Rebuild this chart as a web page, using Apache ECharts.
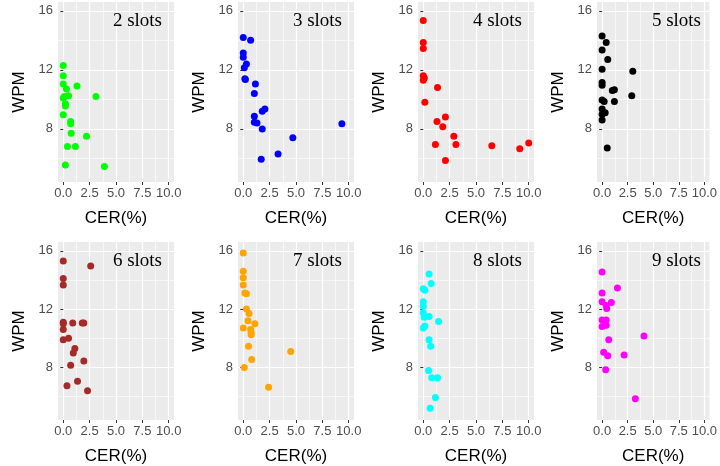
<!DOCTYPE html>
<html><head><meta charset="utf-8">
<script src="https://cdn.jsdelivr.net/npm/echarts@6/dist/echarts.min.js"></script>
<style>html,body{margin:0;padding:0;background:#fff}#c{width:720px;height:466px}</style>
</head><body><div id="c"></div>
<script>
const panelTitles = ['2 slots','3 slots','4 slots','5 slots','6 slots','7 slots','8 slots','9 slots'];
const colors = ['#00FF00','#0000FF','#FF0000','#000000','#A52A2A','#FFA500','#00FFFF','#FF00FF'];
const xTicks = [0, 2.5, 5, 7.5, 10];
const xMinor = [1.25, 3.75, 6.25, 8.75];
const yTicks = [8, 12, 16];
const yMinor = [6, 10, 14];
const slots2 = [[0,12.3],[0,11.6],[0,11.05],[0.3,10.7],[0,10.1],[0.5,10.25],[0.2,9.7],[0.2,9.55],[0,8.95],[1.3,10.9],[3.1,10.2],[0.7,8.5],[0.7,8.35],[0.75,7.7],[2.2,7.5],[0.4,6.8],[1.15,6.8],[0.2,5.55],[3.9,5.45],[0.1,10.2]];
const slots3 = [[0,14.2],[0.7,14.0],[0,13.15],[0,12.85],[0.3,12.4],[0.1,12.15],[0.15,11.4],[1.15,11.05],[1.05,10.4],[2.05,9.35],[1.8,9.2],[1.05,8.85],[1.05,8.45],[1.3,8.4],[1.8,8.0],[9.35,8.35],[4.7,7.4],[3.3,6.3],[1.7,5.95],[0.2,11.35]];
const slots4 = [[0,15.35],[0,13.85],[0,13.45],[0,11.6],[0.1,11.45],[0,11.3],[1.35,10.8],[0.15,9.8],[2.1,8.8],[1.3,8.5],[1.85,8.15],[2.9,7.5],[3.1,6.95],[1.15,6.95],[6.5,6.85],[9.15,6.65],[10,7.05],[2.1,5.85]];
const slots5 = [[0,14.3],[0.4,13.85],[0,13.35],[0.55,12.7],[0,12.05],[3.0,11.9],[0,11.15],[0,10.95],[1.0,10.6],[1.2,10.65],[2.9,10.25],[0,9.95],[0.2,9.85],[1.2,9.85],[0,9.35],[0.3,9.1],[0,9.0],[0,8.6],[0.5,6.7]];
const slots6 = [[0,15.3],[2.6,14.95],[0,14.1],[0,13.65],[0,11.1],[0,11.0],[0.9,11.05],[1.8,11.05],[1.95,11.05],[0,10.6],[0.5,10.0],[0,9.9],[1.1,9.3],[0.95,9.0],[0.7,8.15],[1.95,8.45],[1.35,7.05],[0.35,6.75],[2.3,6.4]];
const slots7 = [[0,15.85],[0,14.6],[0,14.15],[0,13.65],[0.15,13.1],[0.3,13.05],[0.3,12.0],[0.55,11.7],[0.45,11.2],[1.1,11.0],[0,10.7],[0.7,10.6],[0.75,10.4],[0.75,10.25],[0.5,9.45],[4.5,9.1],[0.8,8.55],[0.1,8.0],[2.4,6.65]];
const slots8 = [[0.55,14.4],[0.75,13.75],[0,13.4],[0.15,13.3],[0,12.5],[0,12.2],[0,11.75],[0.1,11.45],[0.55,11.5],[1.45,11.15],[0.15,10.85],[0,10.7],[0.55,9.9],[0.7,9.45],[0.5,7.8],[0.8,7.3],[1.35,7.3],[1.15,5.95],[0.65,5.2]];
const slots9 = [[0,14.55],[1.5,13.45],[0,13.1],[0,12.5],[0.4,12.25],[0.9,12.45],[0.45,12.05],[0,11.25],[0.4,11.25],[0,10.8],[0.4,10.9],[4.1,10.15],[0.65,9.9],[0.15,9.05],[0.55,8.8],[2.15,8.85],[0.35,7.85],[3.25,5.85]];
const allData = [slots2,slots3,slots4,slots5,slots6,slots7,slots8,slots9];

const lefts = [58, 238, 418, 597];
const tops = [2, 242];
const W = 116, H = 180;
const grids=[], xAxes=[], yAxes=[], series=[], titles=[];
const X0=-0.5, X1=10.5, Y0=4.4, Y1=16.6;
for (let i=0;i<8;i++){
  const l = lefts[i%4], t = tops[Math.floor(i/4)];
  grids.push({left:l, top:t, width:W, height:H, backgroundColor:'#EBEBEB', show:true, borderWidth:0});
  xAxes.push({type:'value', gridIndex:i, position:'bottom', offset:0, min:X0, max:X1, axisLine:{show:false},
    axisTick:{show:false, length:0, lineStyle:{color:'rgba(0,0,0,0)'}, customValues:xMinor}, axisLabel:{show:false, customValues:xMinor},
    splitLine:{show:true, lineStyle:{color:'#fff', width:0.6}}});
  yAxes.push({type:'value', gridIndex:i, position:'left', offset:0, min:Y0, max:Y1, axisLine:{show:false},
    axisTick:{show:false, length:0, lineStyle:{color:'rgba(0,0,0,0)'}, customValues:yMinor}, axisLabel:{show:false, customValues:yMinor},
    splitLine:{show:true, lineStyle:{color:'#fff', width:0.6}}});
  xAxes.push({type:'value', gridIndex:i, position:'bottom', offset:0, min:X0, max:X1, axisLine:{show:false},
    axisTick:{show:true, length:3, lineStyle:{color:'#333'}, customValues:xTicks},
    axisLabel:{color:'#4D4D4D', fontSize:13, margin:5, fontFamily:'Liberation Sans', customValues:xTicks, formatter:v=>v.toFixed(1)},
    splitLine:{show:true, lineStyle:{color:'#fff', width:1.2}},
    name:'CER(%)', nameLocation:'middle', nameGap:28, nameTextStyle:{fontSize:17, color:'#000', fontFamily:'Liberation Sans'}});
  yAxes.push({type:'value', gridIndex:i, position:'left', offset:0, min:Y0, max:Y1, axisLine:{show:false},
    axisTick:{show:true, length:3, lineStyle:{color:'#333'}, customValues:yTicks},
    axisLabel:{color:'#4D4D4D', fontSize:13, margin:5, fontFamily:'Liberation Sans', customValues:yTicks},
    splitLine:{show:true, lineStyle:{color:'#fff', width:1.2}},
    name:'WPM', nameLocation:'middle', nameGap:30, nameTextStyle:{fontSize:17, color:'#000', fontFamily:'Liberation Sans'}});
  series.push({type:'scatter', xAxisIndex:2*i+1, yAxisIndex:2*i+1, data:allData[i], symbolSize:7,
    itemStyle:{color:colors[i], opacity:1}});
  titles.push({text:panelTitles[i], right:720-(l+W)+7, top:t+5,
    textStyle:{fontSize:19, fontWeight:'normal', color:'#000', fontFamily:'Liberation Serif'}});
}
const chart = echarts.init(document.getElementById('c'));
chart.setOption({animation:false, title:titles, grid:grids, xAxis:xAxes, yAxis:yAxes, series:series});
</script></body></html>
